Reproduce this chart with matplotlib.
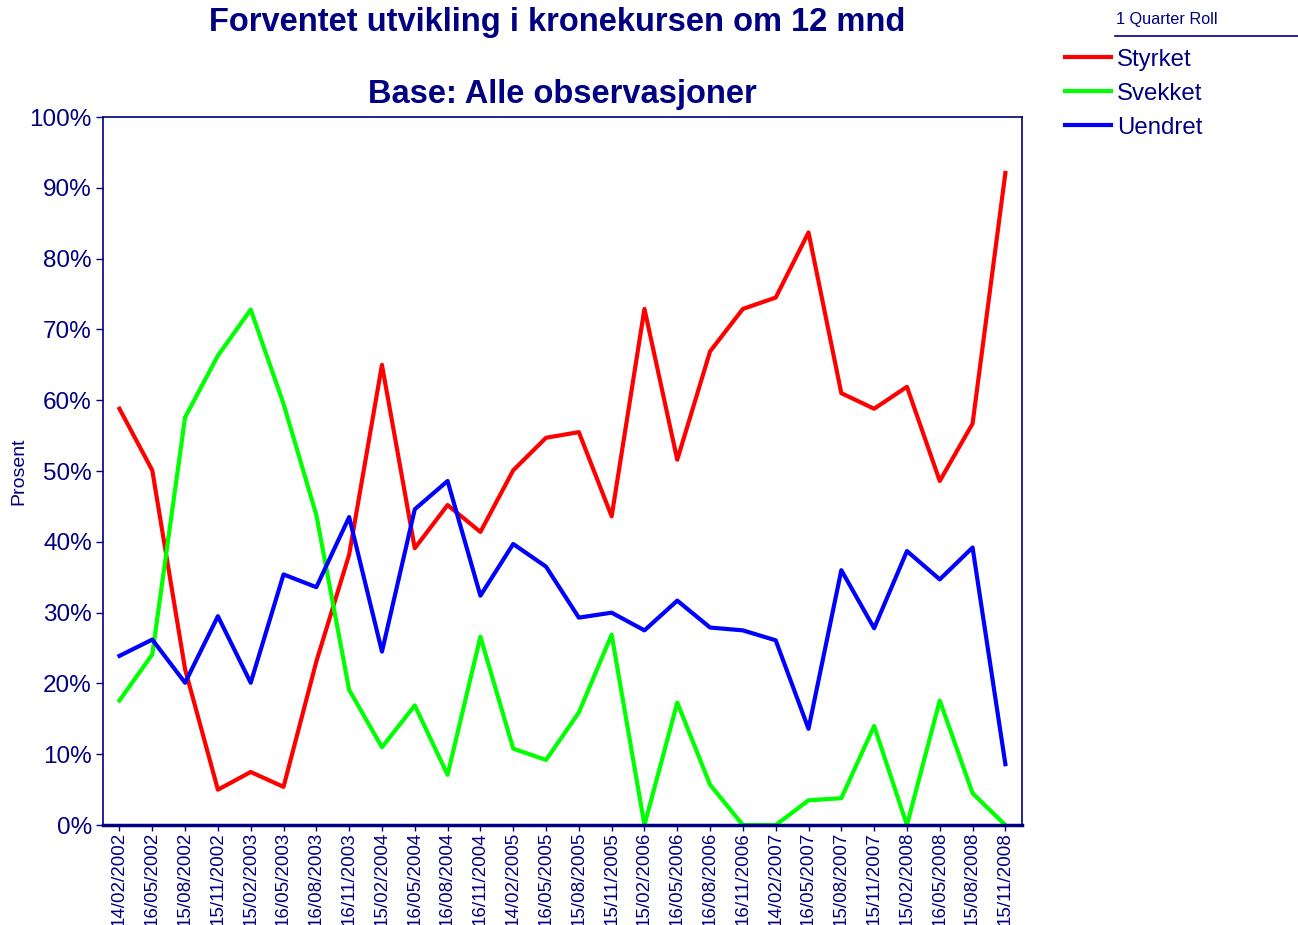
import matplotlib
matplotlib.use('Agg')
import matplotlib.pyplot as plt
from matplotlib.lines import Line2D
from matplotlib.ticker import PercentFormatter

plt.rcParams['font.family'] = ['Liberation Sans', 'DejaVu Sans']

NAVY = '#000080'

dates = ['14/02/2002', '16/05/2002', '15/08/2002', '15/11/2002',
         '15/02/2003', '16/05/2003', '16/08/2003', '16/11/2003',
         '15/02/2004', '16/05/2004', '16/08/2004', '16/11/2004',
         '14/02/2005', '16/05/2005', '15/08/2005', '15/11/2005',
         '15/02/2006', '16/05/2006', '16/08/2006', '16/11/2006',
         '14/02/2007', '16/05/2007', '15/08/2007', '15/11/2007',
         '15/02/2008', '16/05/2008', '15/08/2008', '15/11/2008']

styrket = [58.8, 50.1, 22.0, 5.0, 7.5, 5.4, 23.1, 38.2,
           65.0, 39.1, 45.2, 41.4, 50.1, 54.7, 55.5, 43.6,
           72.9, 51.6, 66.9, 72.9, 74.5, 83.7, 61.0, 58.8,
           61.9, 48.6, 56.7, 92.1]
svekket = [17.6, 24.1, 57.6, 66.3, 72.8, 59.5, 43.8, 19.1,
           11.0, 16.9, 7.1, 26.6, 10.8, 9.2, 15.9, 26.9,
           0.0, 17.3, 5.7, 0.0, 0.0, 3.5, 3.8, 14.0,
           0.0, 17.6, 4.5, 0.0]
uendret = [23.9, 26.2, 20.1, 29.5, 20.1, 35.4, 33.6, 43.5,
           24.5, 44.6, 48.6, 32.4, 39.7, 36.5, 29.3, 30.0,
           27.5, 31.7, 27.9, 27.5, 26.1, 13.6, 36.0, 27.8,
           38.7, 34.7, 39.2, 8.6]

series = [('Styrket', styrket, '#ff0000'),
          ('Svekket', svekket, '#00ff00'),
          ('Uendret', uendret, '#0000ff')]

fig = plt.figure(figsize=(12.98, 9.25), dpi=100)
ax = fig.add_axes([0.0794, 0.108, 0.7078, 0.7655])

x = list(range(len(dates)))
for name, vals, col in series:
    ax.plot(x, vals, color=col, lw=3, label=name, solid_joinstyle='round')

ax.set_xlim(-0.5, len(dates) - 0.5)
ax.set_ylim(0, 100)
ax.set_yticks(range(0, 101, 10))
ax.yaxis.set_major_formatter(PercentFormatter(decimals=0))
ax.set_xticks(x)
ax.set_xticklabels(dates, rotation=90)
ax.tick_params(axis='y', colors=NAVY, labelsize=17.5, length=5, width=1, direction='out', pad=3)
ax.tick_params(axis='x', colors=NAVY, labelsize=13.5, length=4, width=1, direction='out', pad=1)

for side in ['left', 'right', 'top']:
    ax.spines[side].set_color(NAVY)
    ax.spines[side].set_linewidth(1.2)
ax.spines['bottom'].set_color(NAVY)
ax.spines['bottom'].set_linewidth(2.5)

ax.set_ylabel('Prosent', color=NAVY, fontsize=14)
ax.yaxis.set_label_coords(-0.082, 0.5)

fig.text(0.4295, 0.976, 'Forventet utvikling i kronekursen om 12 mnd', color=NAVY,
         fontsize=23.5, fontweight='bold', ha='center', va='center')
fig.text(0.4334, 0.898, 'Base: Alle observasjoner', color=NAVY,
         fontsize=23.5, fontweight='bold', ha='center', va='center')

# legend block
fig.text(0.8595, 0.979, '1 Quarter Roll', color=NAVY, fontsize=11.7, ha='left', va='center')
fig.add_artist(Line2D([0.859, 1.0], [0.961, 0.961], color=NAVY, lw=1.2))
leg = fig.legend(loc='upper left', bbox_to_anchor=(0.8205, 0.9475), frameon=False,
                 fontsize=17.3, handlelength=1.9, handletextpad=0.25, labelspacing=0.5,
                 borderaxespad=0, borderpad=0)
for t in leg.get_texts():
    t.set_color(NAVY)

fig.savefig('out.png', dpi=100)
